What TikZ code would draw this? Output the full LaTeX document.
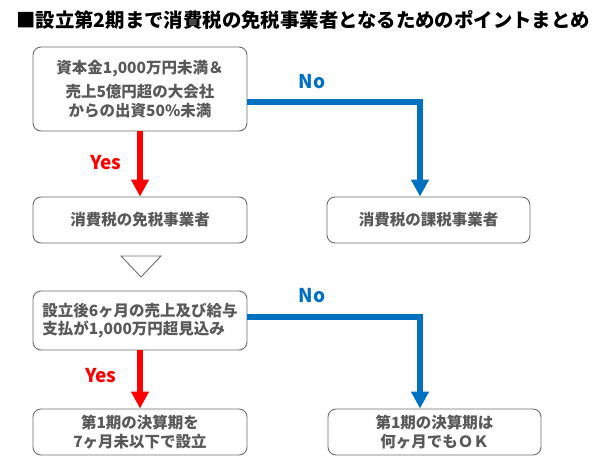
\documentclass[tikz,border=0pt]{standalone}
\usepackage{fontspec}
\newfontfamily\jp{Noto Sans CJK JP}
\usetikzlibrary{arrows.meta}
\definecolor{txtgray}{HTML}{595959}
\definecolor{boxgray}{HTML}{6E6E6E}
\definecolor{yesred}{HTML}{FF0000}
\definecolor{noblue}{HTML}{0070C0}
\begin{document}
\begin{tikzpicture}[x=1pt,y=-1pt,
  box/.style={draw=boxgray, line width=0.9pt, rounded corners=8pt, fill=white,
    text=txtgray, font=\jp\bfseries\fontsize{15.5}{18.8}\selectfont,
    inner sep=0pt, align=center},
  yesarrow/.style={draw=yesred, line width=6pt, -{Triangle[width=17pt,length=17pt]}},
  noarrow/.style={draw=noblue, line width=6pt, -{Triangle[width=17pt,length=17pt]}},
  yeslabel/.style={text=yesred, font=\jp\bfseries\fontsize{19}{19}\selectfont, inner sep=0pt},
  nolabel/.style={text=noblue, font=\jp\bfseries\fontsize{19}{19}\selectfont, inner sep=0pt},
  titlestyle/.style={anchor=west, font=\jp\bfseries\fontsize{19.4}{19.4}\selectfont, inner sep=0pt},
  marker/.style={draw=boxgray, line width=0.9pt, fill=white}
]
\useasboundingbox (0,0) rectangle (597,464);

\node[titlestyle] (title) at (16,20) {■設立第2期まで消費税の免税事業者となるためのポイントまとめ};

\node[box, minimum width=214pt, minimum height=84pt] (b1) at (140,89)
  {資本金1,000万円未満＆\\[6pt]売上5億円超の大会社\\からの出資50\%未満};
\node[box, minimum width=214pt, minimum height=46pt] (b2) at (140,220) {消費税の免税事業者};
\node[box, minimum width=203pt, minimum height=46pt] (b3) at (428.5,220) {消費税の課税事業者};
\node[box, minimum width=214pt, minimum height=59pt, align=left] (b4) at (140,320.5)
  {設立後6ヶ月の売上及び給与\\支払が1,000万円超見込み};
\node[box, minimum width=214pt, minimum height=46pt] (b5) at (140,432)
  {第1期の決算期を\\7ヶ月未以下で設立};
\node[box, minimum width=213pt, minimum height=46pt] (b6) at (434.5,432)
  {第1期の決算期は\\何ヶ月でもＯＫ};

\draw[marker] (121,256) -- (161,256) -- (141,277) -- cycle;

\draw[yesarrow] (b1.south) -- (b2.north);
\draw[noarrow] ([yshift=-13pt]b1.east) -| ([xshift=-8.5pt]b3.north);
\draw[yesarrow] (b4.south) -- (b5.north);
\draw[noarrow] ([yshift=3.5pt]b4.east) -| ([xshift=-14.5pt]b6.north);

\node[yeslabel] (y1) at (106,163) {Yes};
\node[nolabel] (n1) at (312,82) {No};
\node[yeslabel] (y2) at (101,376) {Yes};
\node[nolabel] (n2) at (312,296) {No};
\end{tikzpicture}
\end{document}
